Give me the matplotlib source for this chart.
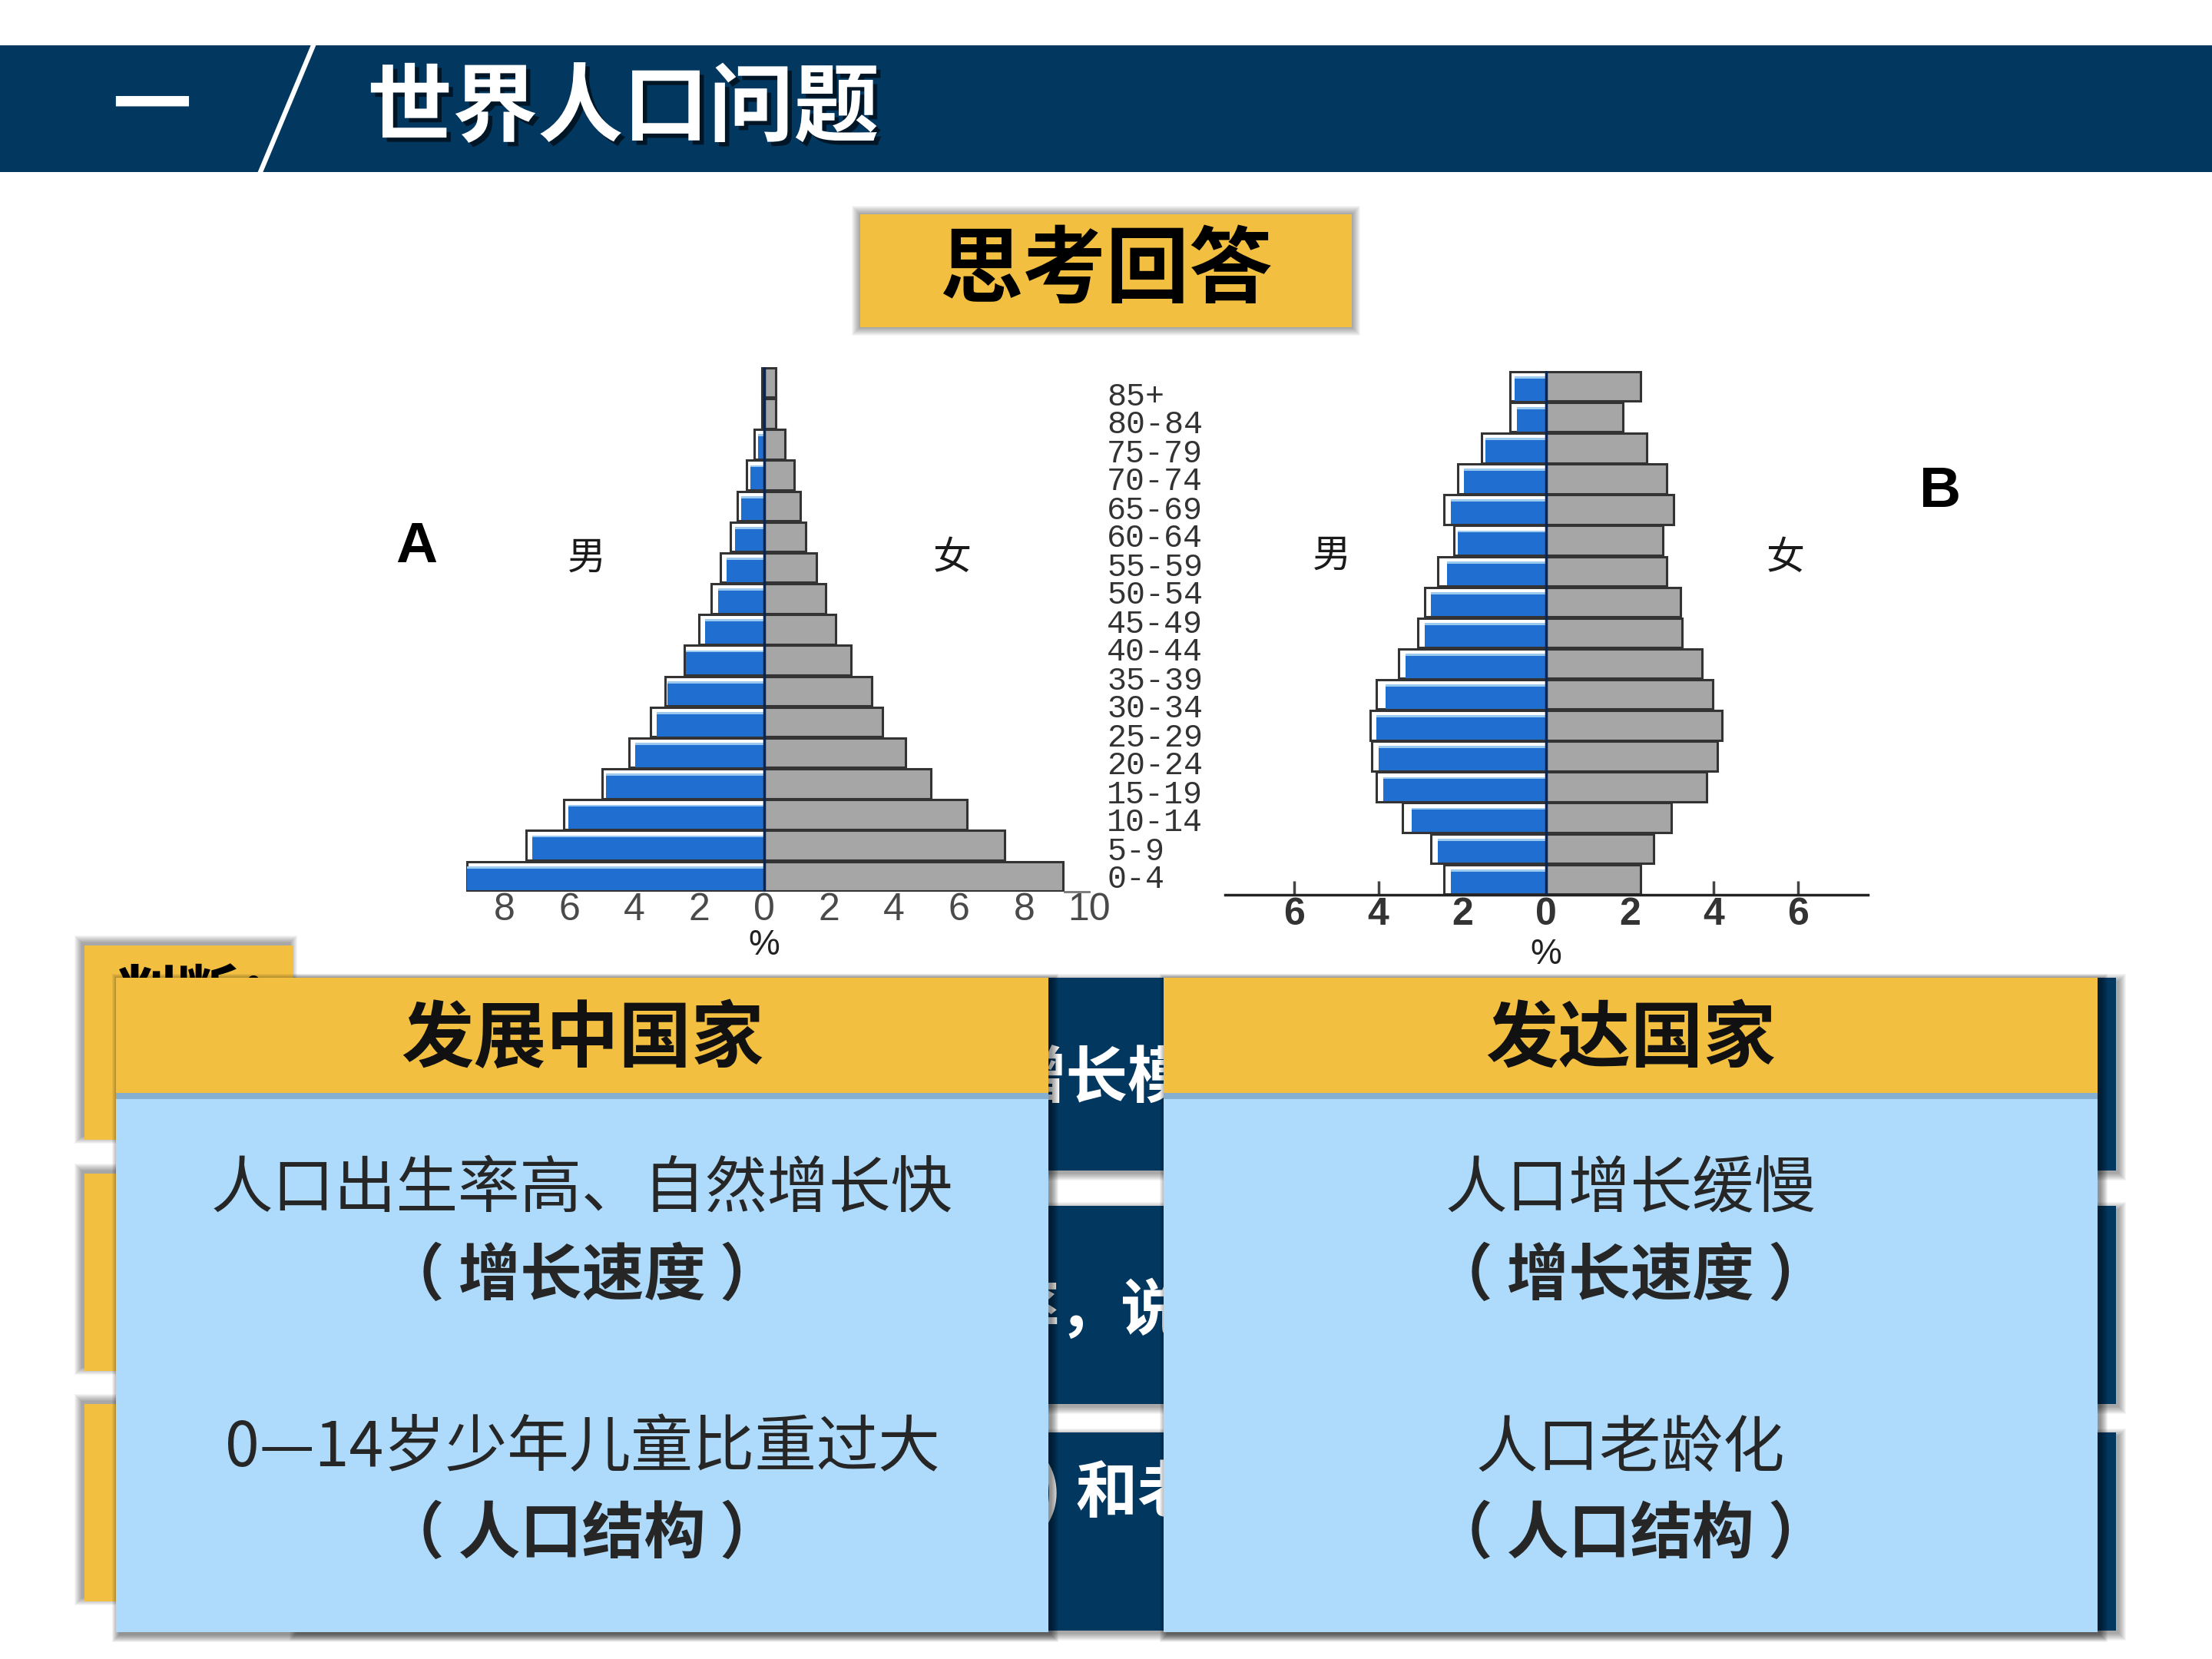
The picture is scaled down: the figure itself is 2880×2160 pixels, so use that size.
import matplotlib
matplotlib.use("Agg")
import matplotlib.pyplot as plt
from matplotlib.patches import Rectangle
import matplotlib.patheffects as pe
import numpy as np

plt.rcParams['font.family'] = ['Noto Sans CJK SC', 'DejaVu Sans']

W, H = 2880, 2160

# age group labels shown between the two pyramids (top to bottom in picture)
age_groups = ["0-4", "5-9", "10-14", "15-19", "20-24", "25-29", "30-34", "35-39",
              "40-44", "45-49", "50-54", "55-59", "60-64", "65-69", "70-74",
              "75-79", "80-84", "85+"]

# pyramid A (developing country), % of population, bottom row first
a_male_frame = [9.14, 7.33, 6.16, 4.99, 4.15, 3.5, 3.05, 2.46, 2.01, 1.62,
                1.35, 1.05, 0.82, 0.55, 0.3, 0.07, 0.07]
a_male = [9.14, 7.13, 6.03, 4.86, 3.96, 3.31, 2.98, 2.4, 1.82, 1.43,
          1.15, 0.9, 0.7, 0.42, 0.18, 0.0, 0.0]
a_female = [9.2, 7.39, 6.23, 5.12, 4.35, 3.63, 3.31, 2.66, 2.2, 1.88,
            1.6, 1.28, 1.1, 0.92, 0.65, 0.35, 0.35]

# pyramid B (developed country)
b_male_frame = [2.43, 2.74, 3.42, 4.04, 4.15, 4.2, 4.04, 3.52, 3.05, 2.9,
                2.58, 2.2, 2.43, 2.1, 1.54, 0.86, 0.86]
b_male = [2.27, 2.58, 3.2, 3.89, 3.99, 4.04, 3.83, 3.36, 2.9, 2.74,
          2.37, 2.1, 2.27, 1.96, 1.44, 0.7, 0.76]
b_female = [2.26, 2.57, 2.99, 3.82, 4.08, 4.19, 3.98, 3.72, 3.25, 3.2,
            2.88, 2.78, 3.04, 2.88, 2.4, 1.84, 2.26]

a_ticks = [-8, -6, -4, -2, 0, 2, 4, 6, 8, 10]
a_tick_labels = ["8", "6", "4", "2", "0", "2", "4", "6", "8", "10"]
b_ticks = [-6, -4, -2, 0, 2, 4, 6]
b_tick_labels = ["6", "4", "2", "0", "2", "4", "6"]

title = "世界人口问题"
question = "思考回答"
left_head = "发展中国家"
right_head = "发达国家"
left_lines = ["人口出生率高、自然增长快", "（ 增长速度 ）", "0—14岁少年儿童比重过大", "（ 人口结构 ）"]
right_lines = ["人口增长缓慢", "（ 增长速度 ）", "人口老龄化", "（ 人口结构 ）"]

NAVY = '#02375f'
YELLOW = '#f2bf41'
LIGHT = '#aedbfb'
BLUE = '#1f6ed0'
GRAY = '#a6a6a6'

fig = plt.figure(figsize=(28.8, 21.6), dpi=100)
bg = fig.add_axes([0, 0, 1, 1])
bg.set_xlim(0, W)
bg.set_ylim(H, 0)
bg.axis('off')


def rect(x0, y0, x1, y1, color, z):
    bg.add_patch(Rectangle((x0, y0), x1 - x0, y1 - y0, facecolor=color,
                           edgecolor='none', zorder=z))


def shadow(x0, y0, x1, y1, dx, dy, z, n=10, a=0.04):
    # soft shadow built from stacked transparent rectangles
    for k in range(n):
        bg.add_patch(Rectangle((x0 + dx - k, y0 + dy - k), x1 - x0 + 2 * k,
                               y1 - y0 + 2 * k, facecolor='black',
                               edgecolor='none', alpha=a, zorder=z))


# header band
rect(0, 59, W, 224, NAVY, 1)
bg.plot([408, 334], [59, 236], color='white', lw=4.5, zorder=2)
bg.text(198, 141, "一", color='white', fontsize=74, fontweight='bold',
        ha='center', va='center', zorder=3)
bg.text(478, 143, title, color='white', fontsize=80, fontweight='bold',
        ha='left', va='center', zorder=3,
        path_effects=[pe.withSimplePatchShadow(offset=(4, -4), shadow_rgbFace='black', alpha=0.6)])

# question tag
shadow(1120, 279, 1760, 426, 0, 0, 1, n=12, a=0.035)
rect(1120, 279, 1760, 426, YELLOW, 2)
bg.text(1440, 354, question, color='black', fontsize=78, fontweight='bold',
        ha='center', va='center', zorder=3)

# back layer: yellow cards and navy rows
for y0, y1 in [(1231, 1484), (1528, 1785), (1828, 2085)]:
    shadow(110, y0, 382, y1, -4, -4, 1, n=10, a=0.04)
    rect(110, y0, 382, y1, YELLOW, 3)
for y0, y1 in [(1273, 1524), (1570, 1828), (1865, 2123)]:
    shadow(382, y0, 2755, y1, 4, 4, 1, n=10, a=0.04)
    rect(382, y0, 2755, y1, NAVY, 2)
bg.text(150, 1300, "判断：", color='black', fontsize=58, fontweight='bold',
        ha='left', va='center', zorder=4)
bg.text(1308, 1405, "增长模式", color='white', fontsize=58, fontweight='bold',
        ha='left', va='center', zorder=4)
bg.text(1299, 1708, "率，说明", color='white', fontsize=58, fontweight='bold',
        ha='left', va='center', zorder=4)
bg.text(1352, 1943, ") 和老年", color='white', fontsize=58, fontweight='bold',
        ha='left', va='center', zorder=4)

# front panels
for x0, x1, head, lines in [(151, 1365, left_head, left_lines),
                            (1515, 2731, right_head, right_lines)]:
    shadow(x0, 1273, x1, 2125, 4, 4, 5, n=10, a=0.05)
    rect(x0, 1273, x1, 2125, LIGHT, 6)
    rect(x0, 1273, x1, 1423, YELLOW, 7)
    rect(x0, 1423, x1, 1431, '#86aed0', 7)
    cx = (x0 + x1) / 2
    bg.text(cx, 1354, head, color='#111111', fontsize=68, fontweight='bold',
            ha='center', va='center', zorder=8)
    for yy, txt, bold in zip([1548, 1662, 1886, 1998], lines, [False, True, False, True]):
        bg.text(cx, yy, txt, color='#262626', fontsize=58,
                fontweight='bold' if bold else 'normal',
                ha='center', va='center', zorder=8)

# pyramid labels
for x, y, t in [(764, 727, "男"), (1240, 727, "女"), (1734, 724, "男"), (2325, 727, "女")]:
    bg.text(x, y, t, color='#1a1a1a', fontsize=36, fontweight='light',
            ha='center', va='center', zorder=3)
bg.text(542, 713, "A", color='black', fontsize=54, fontweight='bold',
        family='Liberation Sans', ha='center', va='center', zorder=3)
bg.text(2526, 641, "B", color='black', fontsize=54, fontweight='bold',
        family='Liberation Sans', ha='center', va='center', zorder=3)


def pyramid(px, zero_x, px_per_pct, male_frame, male, female):
    x0, y0, x1, y1 = px
    ax = fig.add_axes([x0 / W, 1 - y1 / H, (x1 - x0) / W, (y1 - y0) / H])
    ax.patch.set_alpha(0)
    n = len(female)
    y = np.arange(n)
    m_f = -np.asarray(male_frame)
    m_b = -np.asarray(male)
    ax.barh(y, m_f, height=0.96, color='white', edgecolor='#333333', linewidth=2.2, zorder=2)
    ax.barh(y - 0.07, m_b, height=0.78, color=BLUE, zorder=3)
    ax.barh(y + 0.29, m_b, height=0.07, color='#9cc9ef', zorder=4)
    ax.barh(y, female, height=0.96, color=GRAY, edgecolor='#333333', linewidth=2.2, zorder=2)
    ax.axvline(0, color='#0b2550', lw=2.5, zorder=5)
    ax.set_xlim(-(zero_x - x0) / px_per_pct, (x1 - zero_x) / px_per_pct)
    ax.set_ylim(-0.5, n - 0.5)
    ax.set_yticks([])
    for s in ['top', 'left', 'right']:
        ax.spines[s].set_visible(False)
    return ax


# pyramid A
ax_a = pyramid((600, 478, 1430, 1161), 995, 42.3, a_male_frame, a_male, a_female)
ax_a.set_xticks(a_ticks, a_tick_labels, fontsize=36, fontfamily='Liberation Sans',
                color='#4a4a4a')
ax_a.tick_params(axis='x', which='major', length=0, pad=1)
ax_a.spines['bottom'].set_bounds(9.25, 10)
ax_a.spines['bottom'].set_color('#777777')
ax_a.spines['bottom'].set_linewidth(2)
ax_a.set_xticks([10], minor=True)
ax_a.tick_params(axis='x', which='minor', direction='in', length=10, width=2.5, color='#777777')
ax_a.text(0, -0.1025, "%", transform=ax_a.get_xaxis_transform(), fontsize=33,
          family='Liberation Sans', color='#222222', ha='center', va='center')

# pyramid B
ax_b = pyramid((1595, 483, 2432, 1165), 2013, 54.6, b_male_frame, b_male, b_female)
ax_b.set_xticks(b_ticks, b_tick_labels, fontsize=36, fontfamily='Liberation Sans',
                fontweight='bold', color='#333333')
ax_b.tick_params(axis='x', direction='in', length=13, width=2.5, color='#444444', pad=2)
ax_b.spines['bottom'].set_color('#222222')
ax_b.spines['bottom'].set_linewidth(2.5)
ax_b.text(0, -0.114, "%", transform=ax_b.get_xaxis_transform(), fontsize=33,
          family='Liberation Sans', color='#222222', ha='center', va='center')

# age group column
lab = fig.add_axes([1430 / W, 1 - 1159.5 / H, 0.001, 666 / H])
lab.patch.set_alpha(0)
lab.set_ylim(-0.5, len(age_groups) - 0.5)
lab.yaxis.tick_right()
lab.set_yticks(range(len(age_groups)), age_groups, fontsize=30,
               fontfamily='Liberation Mono', color='#333333')
lab.tick_params(axis='y', length=0, pad=6)
lab.set_xticks([])
for s in lab.spines.values():
    s.set_visible(False)

fig.savefig("out.png", dpi=100)
